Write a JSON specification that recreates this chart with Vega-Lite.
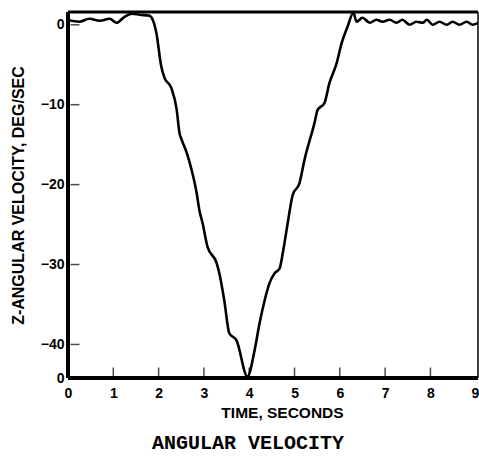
{
  "$schema": "https://vega.github.io/schema/vega-lite/v6.json",
  "width": 410,
  "height": 366,
  "autosize": {"type": "none"},
  "padding": {"left": 68, "top": 12, "right": 1, "bottom": 79},
  "background": "white",
  "data": {"values": [{}]},
  "title": {
    "text": "ANGULAR VELOCITY",
    "orient": "bottom",
    "anchor": "middle",
    "dx": -25,
    "offset": 12,
    "font": "Liberation Mono",
    "fontWeight": "bold",
    "fontSize": 20,
    "color": "black"
  },
  "config": {
    "view": {"stroke": null},
    "axis": {
      "domain": false,
      "ticks": false,
      "labelFont": "Liberation Sans",
      "labelFontWeight": "bold",
      "labelFontSize": 14,
      "labelColor": "black",
      "titleFont": "Liberation Sans",
      "titleFontWeight": "bold",
      "titleFontSize": 15.5,
      "titleColor": "black",
      "grid": false
    }
  },
  "resolve": {"axis": {"x": "independent", "y": "independent"}},
  "datasets": {
    "xticks": [{"v": 1}, {"v": 2}, {"v": 3}, {"v": 4}, {"v": 5}, {"v": 6}, {"v": 7}, {"v": 8}],
    "yticks": [{"v": 0}, {"v": -10}, {"v": -20}, {"v": -30}, {"v": -40}],
    "curve": [
      {"t": 0.0, "w": 0.6},
      {"t": 0.25, "w": 0.38},
      {"t": 0.47, "w": 0.75},
      {"t": 0.7, "w": 0.5},
      {"t": 0.92, "w": 0.75},
      {"t": 1.07, "w": 0.25},
      {"t": 1.25, "w": 1.0},
      {"t": 1.42, "w": 1.38},
      {"t": 1.58, "w": 1.25},
      {"t": 1.8, "w": 1.13},
      {"t": 1.87, "w": 0.63},
      {"t": 1.95, "w": -1.0},
      {"t": 2.06, "w": -5.26},
      {"t": 2.13, "w": -6.64},
      {"t": 2.28, "w": -7.9},
      {"t": 2.4, "w": -10.65},
      {"t": 2.46, "w": -13.5},
      {"t": 2.51, "w": -14.4},
      {"t": 2.62, "w": -16.0},
      {"t": 2.73, "w": -18.2},
      {"t": 2.84, "w": -21.05},
      {"t": 2.9, "w": -23.2},
      {"t": 2.97, "w": -24.8},
      {"t": 3.08, "w": -27.8},
      {"t": 3.28, "w": -29.8},
      {"t": 3.34, "w": -31.1},
      {"t": 3.45, "w": -34.5},
      {"t": 3.56, "w": -38.6},
      {"t": 3.72, "w": -39.5},
      {"t": 3.96, "w": -44.0},
      {"t": 4.12, "w": -40.7},
      {"t": 4.23, "w": -37.3},
      {"t": 4.34, "w": -34.5},
      {"t": 4.45, "w": -32.3},
      {"t": 4.56, "w": -31.1},
      {"t": 4.67, "w": -30.5},
      {"t": 4.74, "w": -28.6},
      {"t": 4.85, "w": -24.8},
      {"t": 4.96, "w": -21.3},
      {"t": 5.11, "w": -19.8},
      {"t": 5.22, "w": -16.9},
      {"t": 5.44, "w": -12.3},
      {"t": 5.51, "w": -10.65},
      {"t": 5.66, "w": -9.8},
      {"t": 5.77, "w": -7.3},
      {"t": 5.93, "w": -4.8},
      {"t": 6.04, "w": -2.3},
      {"t": 6.17, "w": -0.25},
      {"t": 6.3, "w": 1.5},
      {"t": 6.37, "w": 0.38},
      {"t": 6.5, "w": 0.88},
      {"t": 6.66, "w": 0.25},
      {"t": 6.81, "w": 0.63},
      {"t": 6.94, "w": 0.38},
      {"t": 7.1, "w": 0.63},
      {"t": 7.25, "w": 0.25},
      {"t": 7.38, "w": 0.63},
      {"t": 7.54, "w": 0.0},
      {"t": 7.69, "w": 0.38},
      {"t": 7.83, "w": 0.25},
      {"t": 7.92, "w": 0.63},
      {"t": 8.05, "w": 0.0},
      {"t": 8.2, "w": 0.38},
      {"t": 8.36, "w": 0.0},
      {"t": 8.49, "w": 0.38},
      {"t": 8.64, "w": 0.0},
      {"t": 8.8, "w": 0.38},
      {"t": 8.93, "w": 0.0},
      {"t": 9.05, "w": 0.2}
    ]
  },
  "layer": [
    {
      "data": {"name": "curve"},
      "mark": {"type": "line", "color": "black", "strokeWidth": 2.6, "interpolate": "monotone", "clip": true},
      "encoding": {
        "x": {
          "field": "t",
          "type": "quantitative",
          "scale": {"domain": [0, 9.05], "nice": false, "zero": false},
          "axis": {
            "title": "TIME, SECONDS",
            "values": [0, 1, 2, 3, 4, 5, 6, 7, 8, 9],
            "labelPadding": 8,
            "labelFlush": false,
            "labelOverlap": false,
            "labelAlign": {"condition": {"test": "datum.value == 9", "value": "right"}, "value": "center"},
            "labelOffset": {"condition": {"test": "datum.value == 9", "value": 3}, "value": 0},
            "titleX": 214,
            "titleY": 34,
            "titleBaseline": "middle",
            "titleAnchor": null
          }
        },
        "y": {
          "field": "w",
          "type": "quantitative",
          "scale": {"domain": [-44.2, 1.6], "nice": false, "zero": false},
          "axis": {
            "title": "Z-ANGULAR VELOCITY, DEG/SEC",
            "titleFontSize": 16,
            "values": [0, -10, -20, -30, -40, -44.2],
            "labelExpr": "datum.value < -44 ? '0' : datum.label",
            "labelPadding": 4,
            "labelOverlap": false,
            "labelFlush": false,
            "titleX": -50,
            "titleY": 183,
            "titleAngle": -90,
            "titleAlign": "center",
            "titleBaseline": "middle",
            "titleAnchor": null
          }
        }
      }
    },
    {
      "data": {"name": "xticks"},
      "mark": {"type": "tick", "color": "black", "orient": "vertical", "size": 9, "thickness": 1.5, "yOffset": -6},
      "encoding": {
        "x": {"field": "v", "type": "quantitative", "axis": null},
        "y": {"datum": -44.2, "type": "quantitative", "axis": null}
      }
    },
    {
      "data": {"name": "yticks"},
      "mark": {"type": "tick", "color": "black", "orient": "horizontal", "size": 9, "thickness": 1.5, "xOffset": 7},
      "encoding": {
        "y": {"field": "v", "type": "quantitative", "axis": null},
        "x": {"datum": 0, "type": "quantitative", "axis": null}
      }
    },
    {
      "mark": {"type": "rect", "fill": "black", "yOffset": -1.5, "y2Offset": 1.5},
      "encoding": {
        "x": {"datum": 0, "type": "quantitative", "axis": null},
        "x2": {"datum": 9.05},
        "y": {"datum": 1.6, "type": "quantitative", "axis": null},
        "y2": {"datum": 1.6}
      }
    },
    {
      "mark": {"type": "rect", "fill": "black", "yOffset": -2, "y2Offset": 2},
      "encoding": {
        "x": {"datum": 0, "type": "quantitative", "axis": null},
        "x2": {"datum": 9.05},
        "y": {"datum": -44.2, "type": "quantitative", "axis": null},
        "y2": {"datum": -44.2}
      }
    },
    {
      "mark": {"type": "rect", "fill": "black", "xOffset": -2, "x2Offset": 2},
      "encoding": {
        "x": {"datum": 0, "type": "quantitative", "axis": null},
        "x2": {"datum": 0},
        "y": {"datum": -44.2, "type": "quantitative", "axis": null},
        "y2": {"datum": 1.6}
      }
    },
    {
      "mark": {"type": "rect", "fill": "black", "xOffset": -0.75, "x2Offset": 0.75},
      "encoding": {
        "x": {"datum": 9.05, "type": "quantitative", "axis": null},
        "x2": {"datum": 9.05},
        "y": {"datum": -44.2, "type": "quantitative", "axis": null},
        "y2": {"datum": 1.6}
      }
    }
  ]
}
